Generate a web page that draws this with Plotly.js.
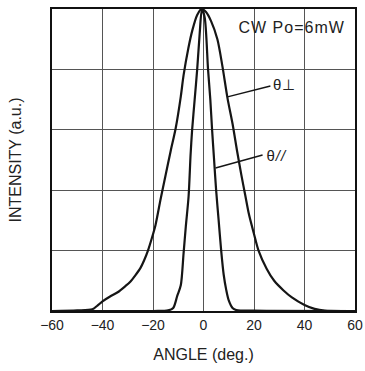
<!DOCTYPE html>
<html>
<head>
<meta charset="utf-8">
<script src="https://cdn.plot.ly/plotly-3.0.1.min.js"></script>
<style>html,body{margin:0;padding:0;background:#fff;}#chart{width:365px;height:371px;}#chart .annotation-text{letter-spacing:1px;}</style>
</head>
<body>
<div id="chart"></div>
<script>
// θ⊥ (perpendicular) far-field pattern
const perpAngle = [-60, -50, -44, -42, -40, -37, -34, -31, -29, -27, -25, -23.5, -22, -20.5, -19, -17, -15, -13, -11, -9, -7.9, -6, -4.4, -2.5, -0.8, 1, 3, 5.5, 7.5, 9.5, 11.5, 13.3, 15, 16.5, 18, 20, 21.8, 25, 28, 31.7, 35, 40, 44, 48, 60];
const perpValue = [0, 0.002, 0.006, 0.018, 0.032, 0.048, 0.062, 0.082, 0.097, 0.118, 0.142, 0.168, 0.2, 0.24, 0.285, 0.37, 0.45, 0.53, 0.606, 0.71, 0.78, 0.87, 0.93, 0.98, 1.0, 0.99, 0.96, 0.9, 0.81, 0.705, 0.62, 0.53, 0.45, 0.385, 0.32, 0.255, 0.2, 0.14, 0.1, 0.068, 0.045, 0.02, 0.007, 0.001, 0];
// θ// (parallel) far-field pattern
const paraAngle = [-60, -20, -14, -12, -10.4, -9, -7.9, -7, -5.9, -5.1, -4.5, -3.5, -2.5, -1.5, -0.6, 0.5, 1.8, 2.7, 3.4, 4.2, 5, 6, 7, 8, 9, 10, 11.5, 13, 20, 60];
const paraValue = [0, 0, 0.002, 0.01, 0.05, 0.085, 0.19, 0.28, 0.38, 0.52, 0.6, 0.7, 0.8, 0.92, 1.0, 0.97, 0.8, 0.7, 0.6, 0.5, 0.4, 0.3, 0.2, 0.12, 0.07, 0.035, 0.01, 0.003, 0.001, 0];

const xTicks = [-60, -40, -20, 0, 20, 40, 60];
const xTickText = ['\u221260', '\u221240', '\u221220', '0', '20', '40', '60'];

const font = {family: 'Liberation Sans, Arial, sans-serif', color: '#222'};
const f = s => Object.assign({size: s}, font);

const traces = [
  {x: perpAngle, y: perpValue, mode: 'lines', line: {color: '#151515', width: 2.2, shape: 'spline', smoothing: 0.8}, hoverinfo: 'skip'},
  {x: paraAngle, y: paraValue, mode: 'lines', line: {color: '#151515', width: 2.2, shape: 'spline', smoothing: 0.8}, hoverinfo: 'skip'}
];

const layout = {
  width: 365, height: 371,
  margin: {l: 52, r: 10, t: 9, b: 60},
  paper_bgcolor: '#fff', plot_bgcolor: '#fff',
  showlegend: false,
  font: f(14),
  xaxis: {
    range: [-60, 60], tickvals: xTicks, ticktext: xTickText,
    showgrid: true, gridcolor: '#555', gridwidth: 1,
    zeroline: false, showline: true, linecolor: '#111', linewidth: 2, mirror: true,
    ticks: '', tickfont: f(14),
    title: {text: 'ANGLE (deg.)', font: f(16), standoff: 17}
  },
  yaxis: {
    range: [0, 1], dtick: 0.2, showticklabels: false,
    showgrid: true, gridcolor: '#555', gridwidth: 1,
    zeroline: false, showline: true, linecolor: '#111', linewidth: 2, mirror: true,
    ticks: '',
    title: {text: 'INTENSITY (a.u.)', font: f(16), standoff: 24}
  },
  shapes: [
    {type: 'line', xref: 'x', yref: 'y', x0: 9.5, y0: 0.709, x1: 26.5, y1: 0.745, line: {color: '#151515', width: 1.5}},
    {type: 'line', xref: 'x', yref: 'y', x0: 4.75, y0: 0.4735, x1: 23.4, y1: 0.5166, line: {color: '#151515', width: 1.5}}
  ],
  annotations: [
    {xref: 'x', yref: 'y', x: 55.2, y: 0.939, xanchor: 'right', yanchor: 'middle', text: 'CW Po=6mW', showarrow: false, font: f(16)},
    {xref: 'x', yref: 'y', x: 27.3, y: 0.75, xanchor: 'left', yanchor: 'middle', text: '\u03b8\u22a5', showarrow: false, font: f(15)},
    {xref: 'x', yref: 'y', x: 24.9, y: 0.515, xanchor: 'left', yanchor: 'middle', text: '\u03b8<i>//</i>', showarrow: false, font: f(15)}
  ]
};

Plotly.newPlot('chart', traces, layout, {staticPlot: true, displayModeBar: false});
</script>
</body>
</html>
